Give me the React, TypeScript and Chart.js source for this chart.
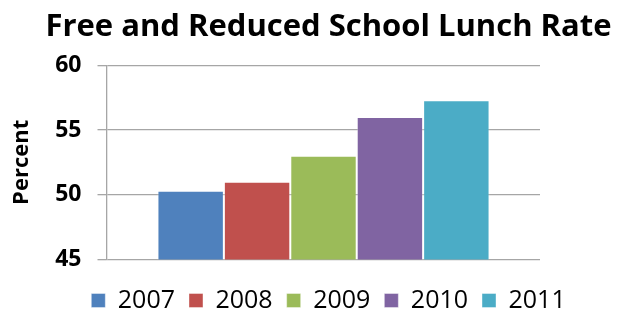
import React, { useEffect, useRef } from "react";
import { Chart, registerables } from "chart.js";

Chart.register(...registerables);

const categories = [""];
const seriesNames = ["2007", "2008", "2009", "2010", "2011"];
const seriesValues = [50.3, 51.0, 53.0, 56.0, 57.3];
const seriesColors = ["#4F81BD", "#C0504D", "#9BBB59", "#8064A2", "#4BACC6"];
const yTicks = [45, 50, 55, 60];

export default function App() {
  const ref = useRef<HTMLCanvasElement | null>(null);
  useEffect(() => {
    document.body.style.margin = "0";
    const canvas = ref.current;
    if (!canvas) return;
    const chart = new Chart(canvas, {
      type: "bar",
      data: {
        labels: categories,
        datasets: seriesNames.map((name, i) => ({
          label: name,
          data: [seriesValues[i]],
          backgroundColor: seriesColors[i],
          borderColor: "rgba(255,255,255,0.4)",
          borderWidth: 1,
          categoryPercentage: 0.767,
          barPercentage: 1,
        })),
      },
      options: {
        responsive: false,
        animation: false,
        layout: { padding: { left: 40, right: 0, top: 0, bottom: -12 } },
        plugins: {
          tooltip: { enabled: false },
          title: {
            display: true,
            text: "Free and Reduced School Lunch Rate",
            color: "#000",
            font: { family: "Open Sans", size: 31, weight: "bold" },
            padding: { top: 9, bottom: 19 },
          },
          legend: {
            position: "bottom",
            labels: {
              color: "#000",
              font: { family: "Open Sans", size: 25 },
              boxWidth: 14,
              boxHeight: 14,
              padding: 14,
            },
          },
        },
        scales: {
          x: {
            grid: { display: false },
            border: { display: false },
            ticks: { display: false },
            afterFit: (s: any) => {
              s.height = 14.5;
            },
          },
          y: {
            min: 45,
            max: 60,
            afterBuildTicks: (s: any) => {
              s.ticks = yTicks.map((v) => ({ value: v }));
            },
            grid: { color: "#a6a6a6", lineWidth: 1.3, tickLength: 9.5 },
            border: { display: true, color: "#a6a6a6", width: 1.3 },
            ticks: {
              color: "#000",
              font: { family: "Open Sans", size: 23, weight: "bold" },
              padding: 16,
            },
            title: {
              display: true,
              text: "Percent",
              color: "#000",
              font: { family: "Open Sans", size: 22, weight: "bold" },
              padding: { top: -31, bottom: 0 },
            },
            afterFit: (s: any) => {
              s.width = 67;
            },
          },
          yR: {
            type: "linear",
            position: "right",
            display: true,
            grid: { display: false },
            border: { display: false },
            ticks: { display: false },
            afterFit: (s: any) => {
              s.width = 77;
            },
          },
        },
      },
    });
    return () => chart.destroy();
  }, []);
  return (
    <div style={{ width: 617, height: 311 }}>
      <canvas ref={ref} width={617} height={311} />
    </div>
  );
}
